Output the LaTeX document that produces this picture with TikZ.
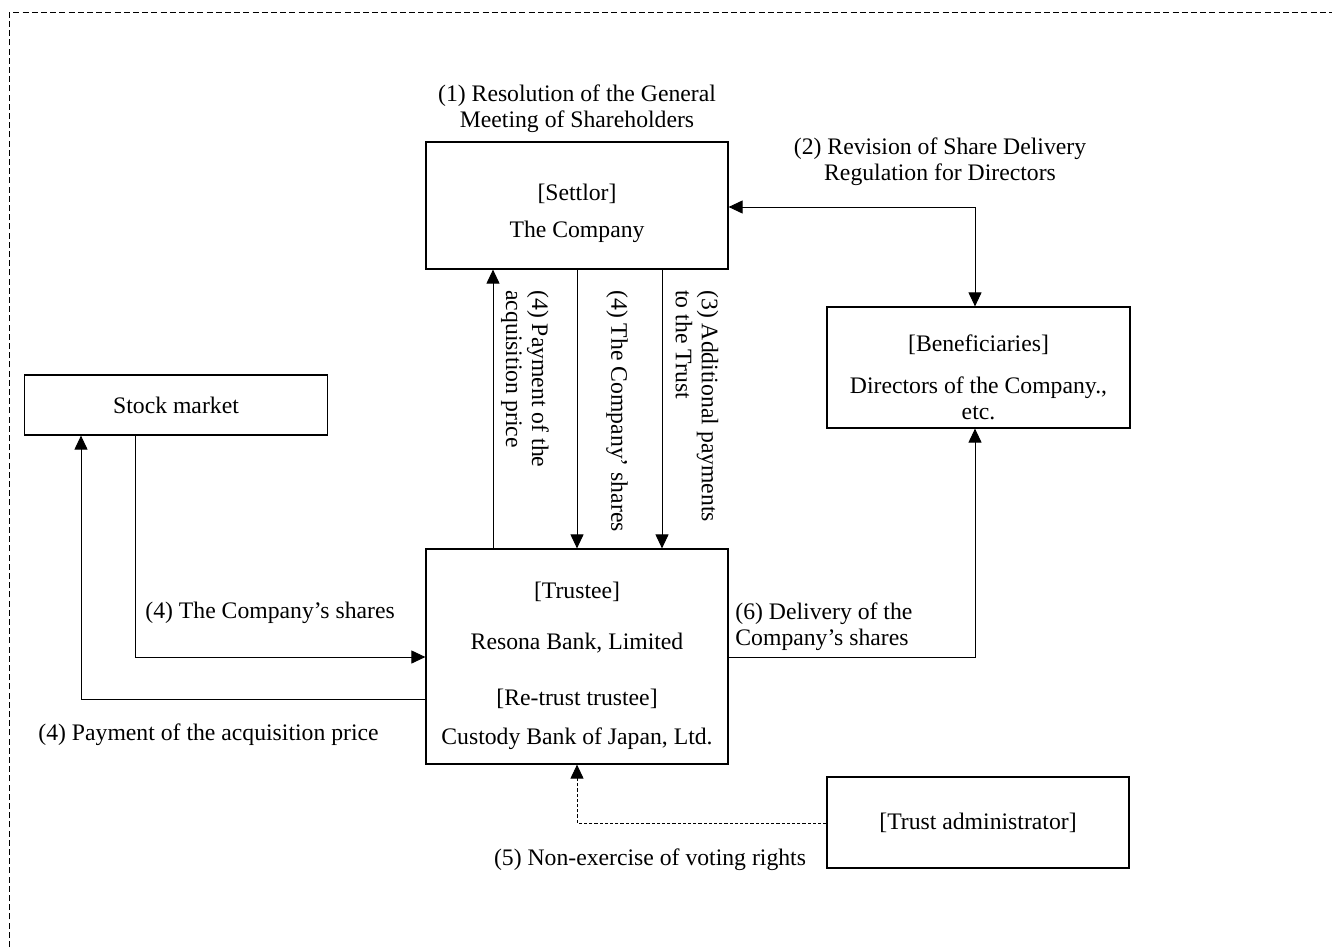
\documentclass[tikz,border=0pt]{standalone}
\usepackage{fontspec}
\setmainfont{Liberation Serif}
\usetikzlibrary{arrows.meta}
\begin{document}
\begin{tikzpicture}[x=0.5pt,y=-0.5pt,
  font=\fontsize{11.85pt}{13pt}\selectfont,
  box/.style={draw, line width=0.6pt, inner sep=0pt, fill=white},
  lbl/.style={inner sep=0pt},
  tip/.tip={Triangle[length=7pt,width=6.5pt]},
  arr/.style={-tip, line width=0.5pt},
  dbl/.style={tip-tip, line width=0.5pt},
  frame/.style={dash pattern=on 3pt off 1.6pt, line width=0.5pt},
  dsh/.style={dash pattern=on 1.6pt off 1pt, line width=0.5pt}]
\useasboundingbox (0,0) rectangle (1332,947);
\draw[frame] (9,947) -- (9,13) -- (1332,13);

% boxes
\node[box, minimum width=151pt, minimum height=63.5pt] (settlor) at (577,205.5) {};
\node[box, minimum width=151.5pt, minimum height=60.5pt] (ben) at (978.5,367.5) {};
\node[box, minimum width=151.5pt, minimum height=30pt] (stock) at (176,405) {};
\node[box, minimum width=151pt, minimum height=107.5pt] (trustee) at (577,656.5) {};
\node[box, minimum width=151pt, minimum height=45.5pt] (admin) at (978,822.5) {};

% box texts
\node[lbl] (t1) at (577,194) {[Settlor]};
\node[lbl] (t2) at (577,232) {The Company};
\node[lbl] (t3) at (978.5,345) {[Beneficiaries]};
\node[lbl, align=center] (t4) at (978.5,398) {Directors of the Company.,\\etc.};
\node[lbl] (t5) at (176,405) {Stock market};
\node[lbl] (t6) at (577,592) {[Trustee]};
\node[lbl] (t7) at (577,643) {Resona Bank, Limited};
\node[lbl] (t8) at (577,699) {[Re-trust trustee]};
\node[lbl] (t9) at (577,739) {Custody Bank of Japan, Ltd.};
\node[lbl] (t10) at (978,823) {[Trust administrator]};

% labels
\node[lbl, align=center] (l1) at (577,109) {(1) Resolution of the General\\Meeting of Shareholders};
\node[lbl, align=center] (l2) at (940,162) {(2) Revision of Share Delivery\\Regulation for Directors};
\node[lbl, align=left, anchor=west, rotate=-90] (l3) at (525,290) {(4) Payment of the\\acquisition price};
\node[lbl, anchor=west, rotate=-90] (l4) at (617,290) {(4) The Company’ shares};
\node[lbl, align=left, anchor=west, rotate=-90] (l5) at (697,290) {(3) Additional payments\\to the Trust};
\node[lbl, anchor=west] (l6) at (145,613) {(4) The Company’s shares};
\node[lbl, anchor=west] (l7) at (38,735) {(4) Payment of the acquisition price};
\node[lbl, align=left, anchor=west] (l8) at (735,627) {(6) Delivery of the\\Company’s shares};
\node[lbl] (l9) at (650,860) {(5) Non-exercise of voting rights};

% connector coordinates
\coordinate (c1) at (493,0);
\coordinate (c2) at (577,0);
\coordinate (c3) at (662,0);
\coordinate (k2) at (975,207);
\coordinate (s1) at (135,657);
\coordinate (s2) at (81,699);
\coordinate (d6) at (975,657);
\coordinate (v5) at (577,823);

% connectors
\draw[arr] (trustee.north -| c1) -- (settlor.south -| c1);
\draw[arr] (settlor.south -| c2) -- (trustee.north -| c2);
\draw[arr] (settlor.south -| c3) -- (trustee.north -| c3);
\draw[dbl] (settlor.east |- k2) -- (k2) -- (ben.north -| k2);
\draw[arr] (stock.south -| s1) -- (s1) -- (trustee.west |- s1);
\draw[arr] (trustee.west |- s2) -- (s2) -- (stock.south -| s2);
\draw[arr] (trustee.east |- d6) -- (d6) -- (ben.south -| d6);
\draw[arr, dsh] (admin.west |- v5) -- (v5) -- (trustee.south -| v5);
\end{tikzpicture}
\end{document}
